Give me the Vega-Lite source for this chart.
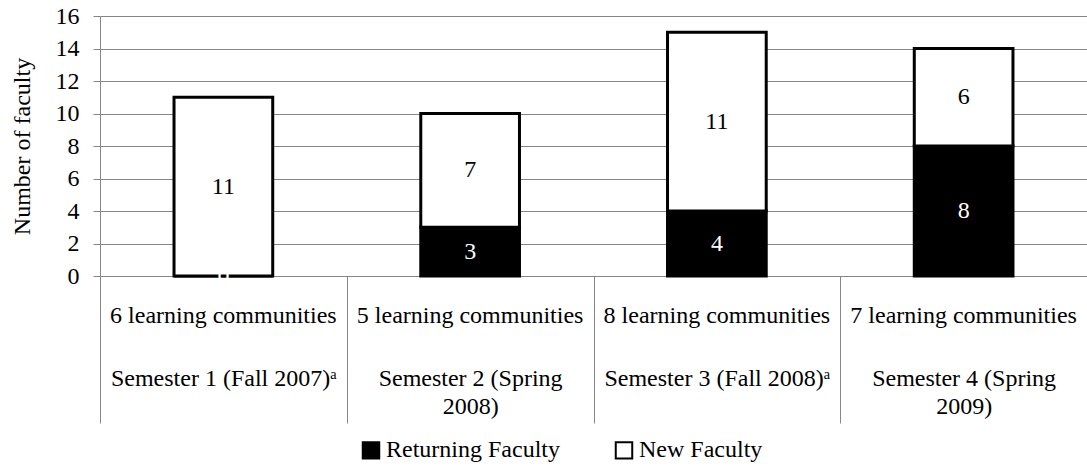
{
  "$schema": "https://vega.github.io/schema/vega-lite/v6.json",
  "width": 987,
  "height": 260,
  "autosize": {"type": "none"},
  "padding": {"left": 100, "top": 16, "right": 0, "bottom": 191},
  "config": {"view": {"stroke": null}, "font": "Liberation Serif"},
  "data": {
    "values": [
      {"group": "6 learning communities#Semester 1 (Fall 2007)ᵃ", "type": "Returning Faculty", "count": 0},
      {"group": "6 learning communities#Semester 1 (Fall 2007)ᵃ", "type": "New Faculty", "count": 11},
      {"group": "5 learning communities#Semester 2 (Spring|2008)", "type": "Returning Faculty", "count": 3},
      {"group": "5 learning communities#Semester 2 (Spring|2008)", "type": "New Faculty", "count": 7},
      {"group": "8 learning communities#Semester 3 (Fall 2008)ᵃ", "type": "Returning Faculty", "count": 4},
      {"group": "8 learning communities#Semester 3 (Fall 2008)ᵃ", "type": "New Faculty", "count": 11},
      {"group": "7 learning communities#Semester 4 (Spring|2009)", "type": "Returning Faculty", "count": 8},
      {"group": "7 learning communities#Semester 4 (Spring|2009)", "type": "New Faculty", "count": 6}
    ]
  },
  "resolve": {"axis": {"x": "independent"}},
  "layer": [
    {
      "mark": {"type": "bar", "width": {"band": 0.4}, "stroke": "black", "strokeWidth": 3},
      "encoding": {
        "x": {
          "field": "group",
          "type": "nominal",
          "sort": null,
          "scale": {"paddingInner": 0, "paddingOuter": 0},
          "axis": {
            "orient": "bottom",
            "title": null,
            "domain": false,
            "grid": false,
            "ticks": true,
            "tickBand": "extent",
            "tickSize": 147,
            "tickColor": "#868686",
            "tickWidth": 1,
            "labelPadding": -57,
            "labelExpr": "isString(datum.label) && indexof(datum.label, '#') >= 0 ? split(split(datum.label, '#')[1], '|') : ''",
            "labelAngle": 0,
            "labelAlign": "center",
            "labelBaseline": "top",
            "labelFont": "Liberation Serif",
            "labelFontSize": 24,
            "labelLineHeight": 28,
            "labelLimit": 0,
            "labelOverlap": false,
            "labelColor": "black"
          }
        },
        "y": {
          "field": "count",
          "type": "quantitative",
          "stack": "zero",
          "scale": {"domain": [0, 16], "nice": false},
          "axis": {
            "values": [0, 2, 4, 6, 8, 10, 12, 14, 16],
            "title": "Number of faculty",
            "grid": true,
            "gridColor": "#868686",
            "domainColor": "#868686",
            "tickColor": "#868686",
            "tickSize": 7,
            "labelFont": "Liberation Serif",
            "labelFontSize": 24,
            "labelColor": "black",
            "labelPadding": 14,
            "titleFont": "Liberation Serif",
            "titleFontSize": 24,
            "titleFontWeight": "normal",
            "titleColor": "black",
            "titlePadding": 21
          }
        },
        "order": {"field": "type", "sort": "descending"},
        "color": {
          "field": "type",
          "type": "nominal",
          "scale": {"domain": ["Returning Faculty", "New Faculty"], "range": ["black", "white"]},
          "legend": {
            "title": null,
            "orient": "none",
            "legendX": 259,
            "legendY": 422,
            "direction": "horizontal",
            "symbolType": "square",
            "symbolSize": 272,
            "symbolStrokeColor": "black",
            "symbolStrokeWidth": 2,
            "labelFont": "Liberation Serif",
            "labelFontSize": 24,
            "labelColor": "black",
            "labelLimit": 0,
            "labelOffset": 3,
            "columnPadding": 51,
            "padding": 0
          }
        }
      }
    },
    {
      "mark": {"type": "text", "font": "Liberation Serif", "fontSize": 24},
      "encoding": {
        "x": {
          "field": "group",
          "type": "nominal",
          "sort": null,
          "scale": {"paddingInner": 0, "paddingOuter": 0},
          "axis": {
            "orient": "bottom",
            "title": null,
            "domain": false,
            "grid": false,
            "ticks": false,
            "labelPadding": 27,
            "labelExpr": "isString(datum.label) && indexof(datum.label, '#') >= 0 ? split(datum.label, '#')[0] : ''",
            "labelAngle": 0,
            "labelAlign": "center",
            "labelBaseline": "top",
            "labelFont": "Liberation Serif",
            "labelFontSize": 24,
            "labelLimit": 0,
            "labelOverlap": false,
            "labelColor": "black"
          }
        },
        "y": {
          "field": "count",
          "type": "quantitative",
          "stack": "zero",
          "bandPosition": 0.5,
          "scale": {"domain": [0, 16], "nice": false},
          "axis": {
            "values": [0, 2, 4, 6, 8, 10, 12, 14, 16],
            "title": "Number of faculty",
            "grid": true,
            "gridColor": "#868686",
            "domainColor": "#868686",
            "tickColor": "#868686",
            "tickSize": 7,
            "labelFont": "Liberation Serif",
            "labelFontSize": 24,
            "labelColor": "black",
            "labelPadding": 14,
            "titleFont": "Liberation Serif",
            "titleFontSize": 24,
            "titleFontWeight": "normal",
            "titleColor": "black",
            "titlePadding": 21
          }
        },
        "detail": {"field": "type"},
        "order": {"field": "type", "sort": "descending"},
        "text": {"field": "count", "type": "quantitative"},
        "color": {"condition": {"test": "datum.type === 'Returning Faculty'", "value": "white"}, "value": "black"}
      }
    }
  ]
}
